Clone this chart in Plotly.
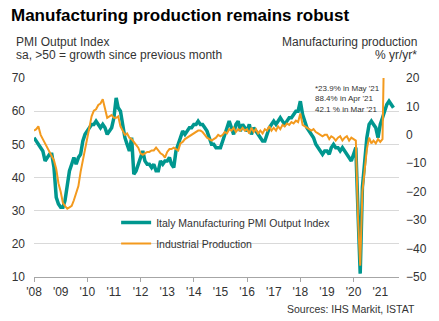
import pandas as pd
import plotly.graph_objects as go

# Italy Manufacturing PMI Output Index (sa), monthly Jan 2008 - Jul 2021
pmi_output = [
    52, 51, 50, 49, 48, 45, 46, 47, 47, 43, 34, 32,   # 2008
    31, 31, 33, 38, 42, 44, 46, 44, 46, 47, 51, 53,   # 2009
    54, 55, 56, 56, 57, 56, 55, 56, 55, 53, 54, 55,   # 2010
    58, 64, 61, 60, 56, 52, 50, 48, 52, 41, 42, 44,   # 2011
    46, 48, 45, 44, 44, 43, 44, 42, 42, 45, 44, 45,   # 2012
    45, 46, 44, 43, 48, 50, 52, 54, 53, 54, 55, 55,   # 2013
    56, 56, 57, 56, 56, 55, 54, 52, 50, 50, 49, 49,   # 2014
    49, 51, 53, 55, 57, 55, 53, 56, 57, 54, 56, 55,   # 2015
    54, 56, 53, 55, 54, 53, 52, 51, 51, 53, 55, 56,   # 2016
    57, 56, 57, 58, 57, 56, 57, 58, 58, 59, 60, 60,   # 2017
    63, 59, 57, 55, 54, 53, 52, 50, 49, 48, 47, 48,   # 2018
    48, 47, 49, 50, 49, 49, 48, 49, 48, 47, 46, 45,   # 2019
    47, 49, 30, 11, 37, 46, 52, 56, 57, 56, 55, 52,   # 2020
    56, 58, 60, 62, 63, 62, 61,                       # 2021
]

# Industrial (manufacturing) production, % yr/yr, monthly Jan 2008 - May 2021
ind_production = [
    1.5, 2, 3, 0, -1.5, -3, -5, -6.5, -8, -9, -12, -17,          # 2008
    -20, -24, -25, -26, -25.5, -25, -23, -20, -18, -13, -9, -5,  # 2009
    -1, 3.5, 6.5, 8.5, 9, 10.5, 11, 12.5, 9, 6, 6.5, 7,          # 2010
    6, 6, 6.5, 3, 1.5, 0, 0.5, -1, -1.5, -2.5, -3.5, -4.5,       # 2011
    -6.5, -7, -6.5, -6, -6, -5.5, -5.5, -4.5, -5.5, -6.5, -7, -8,  # 2012
    -6, -5, -5, -4.5, -5, -5.5, -3, -2.5, -1.5, -1, -0.5, 0,     # 2013
    0.5, 1, 1.5, 1.5, 1, 0, -1, -1.5, -2, -1.5, -1, 0,           # 2014
    -0.5, 0, 1, 0.5, 2, 1.5, 2.5, 1, 2, 1.5, 2.5, 1.5,           # 2015
    2, 0.5, 2.5, 1, 2, 0.5, 1.5, 0.5, 2, 1.5, 3, 1.5,            # 2016
    2.5, 1.5, 3, 2, 3.5, 3, 4, 3.5, 4.5, 4, 5, 4.5,              # 2017
    7.5, 3.5, 3, 2.5, 2, 1.5, 2, 1, 0.5, 0, -0.5, 0,             # 2018
    0, -1.5, -0.5, -1, -2, -1, -0.5, -2, -1, -0.5, -2, -1,       # 2019
    -1.5, -2, -29, -46, -20, -13, -5, -1, -3, -2, -3, -1.5,      # 2020
    -2.5, -1.5, 42.1, 88.4, 23.9,                                # 2021
]

year_labels = ["'08", "'09", "'10", "'11", "'12", "'13", "'14",
               "'15", "'16", "'17", "'18", "'19", "'20", "'21"]

pmi_dates = pd.date_range("2008-01-01", periods=len(pmi_output), freq="MS")
ip_dates = pd.date_range("2008-01-01", periods=len(ind_production), freq="MS")
year_ticks = pd.date_range("2008-01-01", periods=len(year_labels), freq="YS")

TEAL = "#00978F"
ORANGE = "#F39A1E"
FONT = "Liberation Sans, Arial, sans-serif"
TXT = "#333333"

fig = go.Figure()
fig.add_trace(go.Scatter(
    x=pmi_dates, y=pmi_output, mode="lines", name="Italy Manufacturing PMI Output Index",
    line=dict(color=TEAL, width=3.5), legendgroup="a", yaxis="y"))
fig.add_trace(go.Scatter(
    x=ip_dates, y=ind_production, mode="lines", name="Industrial Production",
    line=dict(color=ORANGE, width=2), legendgroup="b", yaxis="y2"))

fig.update_layout(
    width=439, height=321,
    margin=dict(l=33, r=39, t=78, b=44),
    paper_bgcolor="white", plot_bgcolor="white",
    font=dict(family=FONT, color=TXT, size=12),
    showlegend=True,
    legend=dict(x=0.225, y=0.347, xanchor="left", yanchor="top",
                bgcolor="rgba(0,0,0,0)", font=dict(size=10.5, color=TXT),
                traceorder="grouped", tracegroupgap=2),
    xaxis=dict(
        type="date", range=["2008-01-01", "2021-09-15"],
        tickvals=list(year_ticks), ticktext=year_labels,
        ticks="", showgrid=False, showline=True, linecolor="#A6A6A6", linewidth=1,
        tickfont=dict(size=12, color=TXT), ticklabelstandoff=4,
        minor=dict(dtick="M24", tick0="2008-01-01", ticks="outside", ticklen=4,
                   tickcolor="#A6A6A6", showgrid=False),
    ),
    yaxis=dict(
        range=[10, 70], dtick=10, showgrid=True, gridcolor="#D9D9D9", gridwidth=1,
        zeroline=False, ticks="", tickfont=dict(size=12, color=TXT), ticklabelstandoff=8,
    ),
    yaxis2=dict(
        range=[-50, 20], dtick=10, overlaying="y", side="right", showgrid=False,
        zeroline=False, ticks="", tickfont=dict(size=12, color=TXT), ticklabelstandoff=6,
    ),
)

ann = [
    dict(text="<b>Manufacturing production remains robust</b>", x=8, y=15,
         font=dict(size=17, color="#000000"), xanchor="left"),
    dict(text="PMI Output Index", x=13, y=42, font=dict(size=12, color=TXT), xanchor="left"),
    dict(text="sa, >50 = growth since previous month", x=13, y=55,
         font=dict(size=12, color=TXT), xanchor="left"),
    dict(text="Manufacturing production", x=420, y=42, font=dict(size=12, color=TXT),
         xanchor="right"),
    dict(text="% yr/yr*", x=420, y=55, font=dict(size=12, color=TXT), xanchor="right"),
    dict(text="Sources: IHS Markit, ISTAT", x=418, y=309, font=dict(size=10.5, color=TXT),
         xanchor="right"),
]
for a in ann:
    fig.add_annotation(xref="paper", yref="paper",
                       x=(a["x"] - 33) / (439 - 33 - 39),
                       y=(321 - 44 - a["y"]) / (321 - 78 - 44),
                       text=a["text"], showarrow=False, font=dict(family=FONT, **a["font"]),
                       xanchor=a["xanchor"], yanchor="middle")

fig.add_annotation(xref="paper", yref="paper",
                   x=(314 - 33) / (439 - 33 - 39), y=(321 - 44 - 81.5) / (321 - 78 - 44),
                   text="*23.9% in May '21<br>88.4% in Apr '21<br>42.1 % in Mar '21",
                   showarrow=False, align="left", xanchor="left", yanchor="top",
                   font=dict(family=FONT, size=8, color=TXT))

fig.write_html("out.html")
